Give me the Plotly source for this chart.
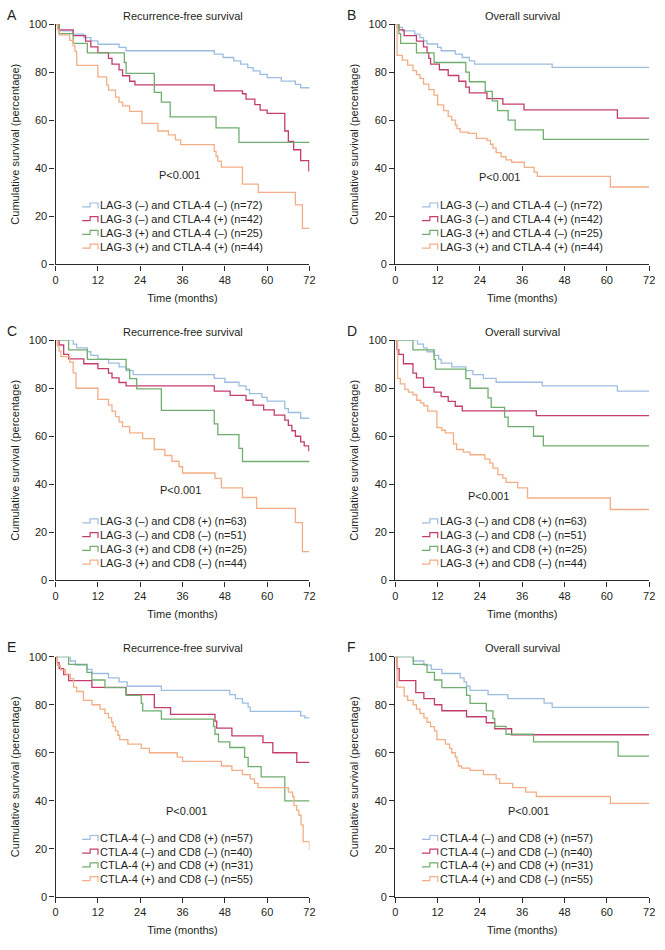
import plotly.graph_objects as go

# ---------------- DATA ----------------
panel_letters = ["A", "B", "C", "D", "E", "F"]
panel_titles = ["Recurrence-free survival", "Overall survival",
                "Recurrence-free survival", "Overall survival",
                "Recurrence-free survival", "Overall survival"]
p_value_text = "P<0.001"
x_tick_vals = [0, 12, 24, 36, 48, 60, 72]
y_tick_vals = [0, 20, 40, 60, 80, 100]
x_title = "Time (months)"
y_title = "Cumulative survival (percentage)"

labels_AB = ["LAG-3 (\u2013) and CTLA-4 (\u2013) (n=72)",
             "LAG-3 (\u2013) and CTLA-4 (+) (n=42)",
             "LAG-3 (+) and CTLA-4 (\u2013) (n=25)",
             "LAG-3 (+) and CTLA-4 (+) (n=44)"]
labels_CD = ["LAG-3 (\u2013) and CD8 (+) (n=63)",
             "LAG-3 (\u2013) and CD8 (\u2013) (n=51)",
             "LAG-3 (+) and CD8 (+) (n=25)",
             "LAG-3 (+) and CD8 (\u2013) (n=44)"]
labels_EF = ["CTLA-4 (\u2013) and CD8 (+) (n=57)",
             "CTLA-4 (\u2013) and CD8 (\u2013) (n=40)",
             "CTLA-4 (+) and CD8 (+) (n=31)",
             "CTLA-4 (+) and CD8 (\u2013) (n=55)"]

# Panel A
A1_t = [0, 1, 5, 8, 10, 12, 18, 20, 45, 47.5, 50.5, 52.5, 54.5, 56, 58, 60, 64, 68, 69.5, 72]
A1_s = [100, 97.2, 95.8, 94.4, 93.0, 91.6, 90.3, 88.9, 87.5, 86.1, 84.7, 83.3, 81.9, 80.5, 79.1, 77.7, 76.3, 74.9, 73.5, 73.5]
A2_t = [0, 1, 5, 8.5, 10, 12, 15, 16, 18, 19, 21, 22.5, 45, 53, 54, 56.5, 58, 60, 65, 66, 67.5, 69.5, 71.8, 72]
A2_s = [100, 97.6, 95.2, 92.9, 90.5, 88.1, 85.7, 83.3, 80.9, 78.5, 76.2, 74.7, 72.2, 71.0, 68.8, 66.5, 64.2, 62.8, 55.5, 51.2, 47.7, 43.2, 38.9, 38.9]
A3_t = [0, 1, 5, 9, 19.5, 20, 28, 30, 32.5, 45.5, 52, 72]
A3_s = [100, 96, 92, 88, 84, 79.5, 71.6, 67.5, 61.4, 56.8, 50.8, 50.8]
A4_t = [0, 0.5, 1, 4, 5, 5.5, 6, 12, 14.5, 15, 17, 18, 19, 21, 24.5, 29, 32, 34, 35.5, 45, 45.5, 46, 47, 53, 57.5, 68, 70, 72]
A4_s = [100, 97.7, 95.5, 93.2, 90.9, 88.6, 82.8, 78.0, 74.6, 72.5, 69.6, 67.5, 66.0, 63.7, 58.7, 55.5, 53.9, 51.8, 49.8, 47.0, 45.0, 43.0, 40.5, 33.4, 30.0, 24.8, 15.0, 15.0]

# Panel B
B1_t = [0, 0.5, 2, 5.5, 7, 8, 9, 12, 13, 17, 19, 21, 22.5, 44.5, 72]
B1_s = [100, 98.6, 97.2, 95.8, 94.4, 93.0, 91.7, 90.3, 88.9, 87.5, 86.1, 84.7, 83.3, 82.0, 82.0]
B2_t = [0, 1, 2.5, 6, 8, 9, 9.5, 10, 12.5, 15, 18, 20, 21, 26, 30.5, 36.5, 63, 72]
B2_s = [100, 97.6, 95.2, 92.9, 90.5, 88.1, 85.7, 83.3, 81.0, 78.6, 76.2, 73.8, 71.4, 69.0, 66.7, 64.3, 60.9, 60.9]
B3_t = [0, 1, 1.5, 6, 11, 20, 21, 25.5, 27.5, 29, 32, 34, 42, 72]
B3_s = [100, 96, 92, 88, 84, 80, 76, 72, 68, 64, 60, 56, 52, 52]
B4_t = [0, 0.5, 2, 3.5, 5, 6, 7, 8, 9.5, 11, 12, 13.7, 15, 16, 17, 17.5, 18.4, 20.7, 23, 26, 27, 27.7, 28.6, 30, 31.4, 33, 36.6, 39.4, 40.3, 61, 72]
B4_s = [100, 87.0, 85.0, 82.9, 80.6, 79.0, 77.4, 75.0, 72.7, 70.4, 66.4, 64.0, 61.6, 60.0, 58.0, 56.5, 55.0, 54.5, 52.4, 51.6, 50.0, 48.4, 46.5, 44.8, 43.5, 42.5, 40.4, 38.4, 36.6, 32.2, 32.2]

# Panel C
C1_t = [0, 5, 6, 9, 10, 12, 15, 18, 20, 22, 45, 48, 52, 54, 55, 58.5, 60, 65, 66, 69.5, 72]
C1_s = [100, 98.4, 96.8, 95.2, 93.7, 92.1, 90.5, 88.9, 87.3, 85.7, 84.1, 82.5, 81.0, 79.4, 77.8, 76.2, 74.6, 71.5, 69.9, 67.5, 67.5]
C2_t = [0, 1, 2.3, 3.7, 8, 12, 15, 16, 18, 20, 45, 49.5, 54, 56, 59, 62, 65, 66, 67, 68, 69.5, 70.5, 71.8, 72]
C2_s = [100, 98.0, 94.1, 92.2, 90.2, 88.2, 86.3, 84.3, 82.4, 81.0, 78.8, 77.0, 75.0, 73.0, 71.0, 68.8, 66.7, 64.5, 62.3, 60.0, 57.7, 56.0, 54.0, 54.0]
C3_t = [0, 3.7, 9, 20, 21, 23, 30, 45, 46, 52, 53, 72]
C3_s = [100, 96, 92, 88, 84, 79.7, 70.8, 65.2, 60.7, 55.0, 49.5, 49.5]
C4_t = [0, 0.5, 1, 1.5, 4, 5, 5.8, 12, 15, 16, 17, 18, 19, 21, 24.7, 28, 31, 33, 35, 36, 45.2, 47, 53, 57, 68, 70, 72]
C4_s = [100, 97.7, 95.5, 93.2, 90.9, 86.4, 80.0, 75.4, 73.0, 70.5, 68.2, 66.0, 64.0, 61.4, 59.0, 54.5, 52.0, 49.6, 47.3, 44.7, 42.5, 38.5, 34.5, 30.0, 24.0, 12.0, 12.0]

# Panel D
D1_t = [0, 6.3, 8, 9, 11, 12.3, 13, 16, 20, 22, 25, 28.6, 41.7, 63, 72]
D1_s = [100, 98.4, 96.8, 95.2, 93.7, 92.1, 90.5, 88.9, 87.3, 85.7, 84.1, 82.5, 81.0, 78.8, 78.8]
D2_t = [0, 0.5, 1, 2.3, 5, 6, 8, 11, 13, 15, 17, 19, 40, 72]
D2_s = [100, 96.1, 94.1, 90.2, 86.3, 84.3, 80.4, 78.4, 76.5, 74.5, 72.5, 70.6, 68.6, 68.6]
D3_t = [0, 5, 11, 11.4, 20, 21.2, 26.3, 27.2, 31, 32, 39.2, 42, 72]
D3_s = [100, 96, 92, 88, 84, 80, 76, 72, 68, 64, 60, 56, 56]
D4_t = [0, 0.65, 1.4, 2.7, 3.7, 5.0, 6.1, 7.2, 8.1, 9.2, 11.8, 13.2, 14.2, 16.5, 17.4, 19.3, 21.2, 25.4, 26.8, 27.7, 29.1, 30.5, 31.4, 34.7, 37.5, 61, 72]
D4_s = [100, 84.1, 81.8, 79.5, 78.4, 77.3, 75.0, 73.9, 72.7, 70.5, 63.6, 62.5, 61.4, 56.8, 54.5, 53.4, 52.3, 50.5, 48.8, 46.7, 44.0, 42.6, 40.8, 38.5, 34.3, 29.5, 29.5]

# Panel E
E1_t = [0, 4.2, 5.6, 8.9, 10.3, 15, 18, 20.3, 30, 49.4, 51, 53, 54.6, 55.2, 69.5, 70.7, 72]
E1_s = [100, 98.2, 96.5, 94.7, 93.0, 91.2, 89.5, 87.7, 86.0, 84.2, 82.5, 80.7, 79.0, 77.2, 75.4, 74.5, 74.5]
E2_t = [0, 0.5, 1, 2.3, 3.7, 10.3, 20, 28, 32.6, 45.2, 45.7, 50, 58.8, 61.6, 68.4, 72]
E2_s = [100, 97.5, 95.0, 92.5, 90.0, 87.2, 84.2, 78.8, 76.0, 73.2, 70.3, 67.0, 64.2, 60.0, 56.0, 56.0]
E3_t = [0, 3.7, 8.9, 10.3, 14, 20, 24.3, 24.7, 30, 44.8, 45.2, 46.2, 49.4, 53.6, 54.6, 58.3, 65, 72]
E3_s = [100, 96.8, 93.5, 90.3, 87.1, 83.9, 80.6, 77.4, 74.0, 71.0, 67.7, 64.5, 62.2, 58.1, 54.2, 50.0, 40.0, 40.0]
E4_t = [0, 0.5, 1.4, 2.8, 4.2, 5.1, 6, 7.9, 10.3, 12.6, 14, 15, 15.9, 16.3, 17, 17.7, 18.2, 20.5, 24.3, 26.6, 34.5, 36, 47, 50, 53, 55.2, 56.4, 57.4, 66, 67.2, 67.6, 68.4, 69, 69.6, 70.2, 72]
E4_s = [100, 96.4, 94.5, 92.7, 90.9, 87.3, 85.5, 81.8, 80.0, 78.2, 76.4, 74.5, 72.7, 70.9, 69.1, 67.3, 65.5, 63.6, 61.8, 60.0, 58.2, 56.4, 54.5, 52.7, 50.9, 49.1, 47.3, 45.5, 43.6, 41.8, 38.0, 36.0, 34.0, 30.0, 23.0, 19.5]

# Panel F
F1_t = [0, 5.1, 8.1, 10.2, 13.2, 18.4, 19.5, 20.2, 21.2, 26.3, 31.9, 42.2, 44.5, 72]
F1_s = [100, 98.2, 96.5, 94.7, 93.0, 91.2, 89.5, 87.7, 86.0, 84.2, 82.5, 80.7, 78.9, 78.9]
F2_t = [0, 0.5, 1.1, 5.8, 8.1, 11.1, 13.2, 20.2, 25.8, 28.2, 33, 72]
F2_s = [100, 95.0, 90.0, 85.0, 82.5, 80.0, 77.5, 75.0, 72.5, 70.0, 67.5, 67.5]
F3_t = [0, 5.1, 9, 11.1, 13.2, 20.2, 21.2, 25.8, 27.7, 28.2, 31.4, 39.2, 63.2, 72]
F3_s = [100, 96.8, 93.5, 90.3, 87.1, 83.9, 80.6, 77.4, 74.2, 71.0, 67.7, 64.5, 58.6, 58.6]
F4_t = [0, 0.5, 2.5, 3.5, 5.1, 6, 7, 8.1, 9, 10, 11.1, 11.8, 14.2, 15.4, 16, 17, 17.5, 17.9, 18.8, 21.2, 25, 28.6, 29.6, 33.3, 37, 40, 61, 72]
F4_s = [100, 87.3, 83.6, 81.8, 80.0, 78.2, 76.4, 74.5, 72.7, 70.9, 69.1, 65.5, 63.6, 61.8, 60.0, 58.2, 56.4, 54.5, 53.6, 52.7, 50.9, 49.1, 47.3, 45.5, 43.6, 41.8, 38.9, 38.9]

# P-value label positions (data coords)
p_x = [35, 29.5, 35.5, 26.5, 37, 37.7]
p_y = [37, 36.3, 37.7, 35, 35.9, 35.9]

# ---------------- STYLE ----------------
colors = ["#9dbde0", "#c43c6c", "#6fae6f", "#f2ae86"]
FONT = "Liberation Sans, Arial, Helvetica, sans-serif"
TXT = "#231f20"
AX = "#2b2b2b"
FS = 11
W, H = 665, 950

curves = [
    [(A1_t, A1_s), (A2_t, A2_s), (A3_t, A3_s), (A4_t, A4_s)],
    [(B1_t, B1_s), (B2_t, B2_s), (B3_t, B3_s), (B4_t, B4_s)],
    [(C1_t, C1_s), (C2_t, C2_s), (C3_t, C3_s), (C4_t, C4_s)],
    [(D1_t, D1_s), (D2_t, D2_s), (D3_t, D3_s), (D4_t, D4_s)],
    [(E1_t, E1_s), (E2_t, E2_s), (E3_t, E3_s), (E4_t, E4_s)],
    [(F1_t, F1_s), (F2_t, F2_s), (F3_t, F3_s), (F4_t, F4_s)],
]
panel_labels = [labels_AB, labels_AB, labels_CD, labels_CD, labels_EF, labels_EF]

# plot-area pixel boxes (left, right, top, bottom)
col_px = [(53.3, 310.7), (397.7, 655.0)]
row_px = [(18.3, 261.7), (338.5, 581.7), (659.0, 902.3)]

fig = go.Figure()
layout = dict(width=W, height=H, margin=dict(l=0, r=0, t=0, b=0),
              paper_bgcolor="white", plot_bgcolor="white", showlegend=False,
              font=dict(family=FONT, color=TXT, size=FS))
annotations = []
shapes = []

for i in range(6):
    r, c = divmod(i, 2)
    xl, xr = col_px[c]
    yt, yb = row_px[r]
    xa = "x" if i == 0 else f"x{i+1}"
    ya = "y" if i == 0 else f"y{i+1}"
    xkey = "xaxis" if i == 0 else f"xaxis{i+1}"
    ykey = "yaxis" if i == 0 else f"yaxis{i+1}"

    for k, (t, s) in enumerate(curves[i]):
        fig.add_trace(go.Scatter(x=t, y=s, mode="lines", xaxis=xa, yaxis=ya,
                                 line=dict(shape="hv", color=colors[k], width=1.3),
                                 name=panel_labels[i][k], hoverinfo="skip"))

    common = dict(showline=True, linecolor=AX, linewidth=1.3, ticks="outside",
                  ticklen=5, tickwidth=1.2, tickcolor=AX, showgrid=False,
                  zeroline=False, tickfont=dict(size=FS, color=TXT, family=FONT))
    layout[xkey] = dict(common, domain=[xl / W, xr / W], anchor=ya, range=[0, 72],
                        tickvals=x_tick_vals,
                        title=dict(text=x_title, standoff=9,
                                   font=dict(size=FS, color=TXT, family=FONT)))
    layout[ykey] = dict(common, domain=[1 - yb / H, 1 - yt / H], anchor=xa, range=[0, 100],
                        tickvals=y_tick_vals,
                        title=dict(text=y_title, standoff=7,
                                   font=dict(size=FS, color=TXT, family=FONT)))

    # panel title
    annotations.append(dict(text=panel_titles[i], xref="paper", yref="paper",
                            x=(xl + xr) / 2 / W, y=1 - (yt - 8.5) / H,
                            xanchor="center", yanchor="middle", showarrow=False,
                            font=dict(size=FS, color=TXT, family=FONT)))
    # panel letter
    annotations.append(dict(text=panel_letters[i], xref="paper", yref="paper",
                            x=(xl - 51) / W, y=1 - (yt - 9.5) / H,
                            xanchor="left", yanchor="middle", showarrow=False,
                            font=dict(size=14, color=TXT, family=FONT)))
    # P value
    annotations.append(dict(text=p_value_text, xref=xa, yref=ya, x=p_x[i], y=p_y[i],
                            xanchor="center", yanchor="middle", showarrow=False,
                            font=dict(size=FS, color=TXT, family=FONT)))
    # legend (manual, to match compact spacing and step icons)
    text_x = xl + 44.5
    for k in range(4):
        ry = yb - 18 - (3 - k) * 13.9
        annotations.append(dict(text=panel_labels[i][k], xref="paper", yref="paper",
                                x=(text_x - 1) / W, y=1 - ry / H, xanchor="left", yanchor="middle",
                                showarrow=False,
                                font=dict(size=FS, color=TXT, family=FONT)))
        x0 = text_x - 17.5
        xm = x0 + 8
        x1 = text_x - 1.5
        ylo = ry + 1.5
        yhi = ry - 2.5
        yend = ry + 3
        pts = [(x0, ylo), (xm, ylo), (xm, yhi), (x1, yhi), (x1, yend)]
        path = "M " + " L ".join(f"{px / W:.5f},{1 - py / H:.5f}" for px, py in pts)
        shapes.append(dict(type="path", path=path, xref="paper", yref="paper",
                           line=dict(color=colors[k], width=1.2)))

layout["annotations"] = annotations
layout["shapes"] = shapes
fig.update_layout(**layout)
fig.write_html("out.html",
               config={"displayModeBar": False},
               post_script="document.body.style.margin='0';document.body.style.padding='0';")
